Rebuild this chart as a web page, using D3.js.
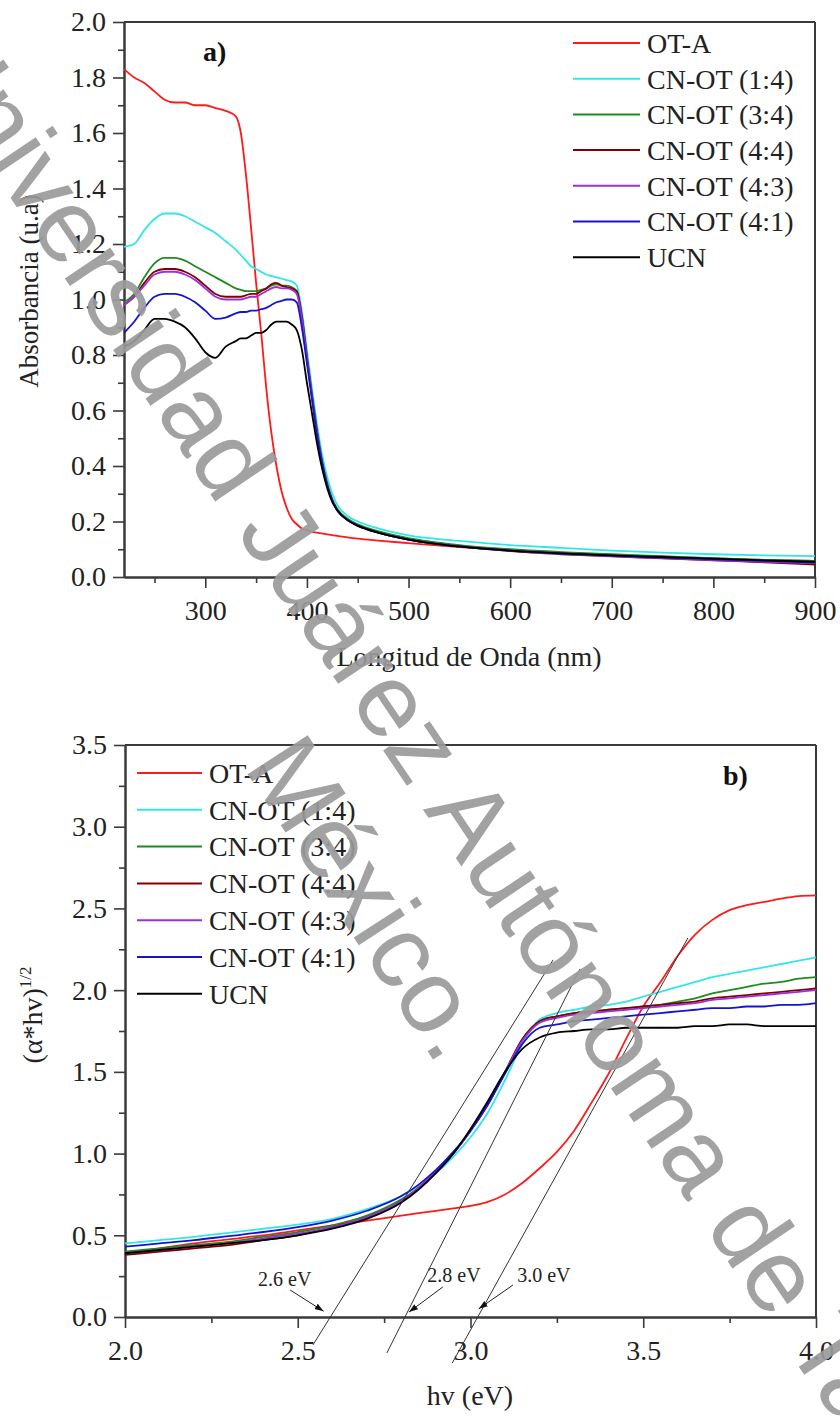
<!DOCTYPE html>
<html><head><meta charset="utf-8">
<script src="https://cdn.jsdelivr.net/npm/d3@7"></script>
<style>
body{margin:0;background:#fff} svg{display:block}
svg text{font-family:"Liberation Serif","Times New Roman",Times,serif}
svg text.wm{font-family:"Liberation Sans",Arial,Helvetica,sans-serif}
</style>
</head><body><script>
// ---------- DATA ----------
const seriesNames = ["OT-A","CN-OT (1:4)","CN-OT (3:4)","CN-OT (4:4)","CN-OT (4:3)","CN-OT (4:1)","UCN"];
const seriesColors = ["#ff1a1a","#33e6e6","#1f8a1f","#800000","#9b30d9","#1414d0","#000000"];

// panel a) absorbance vs wavelength (nm)
const wavelength = [220,230,240,250,260,270,280,290,300,310,320,330,335,340,345,350,355,360,365,370,375,380,385,390,395,400,405,410,415,420,425,430,440,450,470,500,550,600,650,700,750,800,850,900];
const absOTA  = [1.83,1.80,1.78,1.75,1.72,1.71,1.71,1.70,1.70,1.69,1.68,1.66,1.60,1.45,1.26,1.06,0.88,0.68,0.52,0.40,0.31,0.25,0.21,0.19,0.175,0.168,0.163,0.160,0.157,0.154,0.151,0.148,0.143,0.138,0.131,0.122,0.108,0.097,0.088,0.080,0.073,0.067,0.062,0.058];
const absCN14 = [1.19,1.20,1.25,1.29,1.31,1.31,1.30,1.28,1.26,1.24,1.21,1.18,1.16,1.14,1.12,1.11,1.10,1.09,1.085,1.08,1.075,1.07,1.065,1.05,0.96,0.82,0.68,0.55,0.44,0.36,0.30,0.26,0.22,0.20,0.175,0.15,0.13,0.115,0.105,0.095,0.088,0.082,0.078,0.075];
const absCN34 = [0.99,1.02,1.08,1.13,1.15,1.15,1.14,1.12,1.10,1.08,1.06,1.04,1.035,1.03,1.03,1.03,1.035,1.04,1.05,1.055,1.05,1.05,1.045,1.03,0.94,0.80,0.66,0.53,0.42,0.34,0.28,0.245,0.21,0.19,0.165,0.14,0.115,0.10,0.09,0.082,0.075,0.068,0.062,0.058];
const absCN44 = [0.98,1.01,1.06,1.10,1.11,1.11,1.10,1.08,1.05,1.02,1.01,1.01,1.01,1.015,1.02,1.02,1.03,1.04,1.055,1.06,1.05,1.045,1.04,1.03,0.94,0.79,0.65,0.52,0.41,0.33,0.275,0.24,0.205,0.185,0.16,0.135,0.11,0.093,0.082,0.074,0.067,0.06,0.053,0.045];
const absCN43 = [0.98,1.01,1.05,1.09,1.10,1.10,1.09,1.07,1.04,1.01,1.00,1.00,1.00,1.005,1.01,1.01,1.02,1.03,1.04,1.045,1.04,1.04,1.035,1.02,0.93,0.79,0.65,0.52,0.41,0.33,0.275,0.24,0.205,0.185,0.16,0.135,0.11,0.094,0.083,0.075,0.068,0.061,0.055,0.05];
const absCN41 = [0.88,0.92,0.97,1.01,1.02,1.02,1.01,0.99,0.96,0.93,0.935,0.95,0.955,0.955,0.96,0.96,0.965,0.97,0.98,0.99,0.995,1.0,1.0,0.99,0.90,0.77,0.64,0.51,0.41,0.33,0.275,0.24,0.205,0.185,0.16,0.135,0.11,0.095,0.085,0.077,0.07,0.064,0.058,0.052];
const absUCN  = [0.83,0.85,0.89,0.93,0.93,0.92,0.90,0.86,0.81,0.79,0.83,0.85,0.86,0.86,0.87,0.88,0.88,0.89,0.91,0.92,0.92,0.92,0.91,0.89,0.82,0.70,0.59,0.48,0.39,0.32,0.27,0.24,0.205,0.185,0.16,0.135,0.11,0.095,0.085,0.078,0.072,0.066,0.06,0.055];
const aXTicks = [300,400,500,600,700,800,900];
const aXMinor = [250,350,450,550,650,750,850];
const aYTicks = [0,0.2,0.4,0.6,0.8,1.0,1.2,1.4,1.6,1.8,2.0];
const aYMinor = [0.1,0.3,0.5,0.7,0.9,1.1,1.3,1.5,1.7,1.9];

// panel b) Tauc plot vs photon energy (eV)
const energy = [2.0,2.1,2.2,2.3,2.4,2.5,2.6,2.7,2.8,2.85,2.9,2.95,3.0,3.05,3.1,3.15,3.2,3.25,3.3,3.35,3.4,3.45,3.5,3.55,3.6,3.65,3.7,3.75,3.8,3.85,3.9,3.95,4.0];
const taucOTA  = [0.39,0.42,0.45,0.475,0.50,0.53,0.56,0.59,0.62,0.635,0.65,0.665,0.68,0.705,0.75,0.82,0.91,1.01,1.14,1.31,1.49,1.70,1.90,2.05,2.21,2.34,2.43,2.49,2.52,2.54,2.56,2.575,2.58];
const taucCN14 = [0.45,0.47,0.49,0.515,0.54,0.565,0.60,0.66,0.74,0.80,0.88,0.98,1.10,1.25,1.45,1.67,1.82,1.86,1.88,1.90,1.91,1.93,1.96,1.99,2.02,2.05,2.08,2.10,2.12,2.14,2.16,2.18,2.20];
const taucCN34 = [0.40,0.42,0.44,0.46,0.49,0.52,0.56,0.62,0.72,0.79,0.89,1.00,1.14,1.30,1.50,1.70,1.81,1.84,1.86,1.87,1.88,1.89,1.90,1.91,1.93,1.95,1.98,2.00,2.02,2.04,2.05,2.07,2.08];
const taucCN44 = [0.38,0.40,0.42,0.44,0.47,0.50,0.55,0.61,0.71,0.79,0.89,1.00,1.14,1.30,1.50,1.70,1.81,1.84,1.86,1.87,1.88,1.89,1.90,1.91,1.92,1.93,1.95,1.96,1.97,1.98,1.99,2.00,2.01];
const taucCN43 = [0.39,0.41,0.43,0.45,0.48,0.51,0.55,0.61,0.71,0.79,0.89,1.00,1.14,1.30,1.50,1.69,1.80,1.83,1.85,1.86,1.87,1.88,1.89,1.90,1.91,1.92,1.94,1.95,1.96,1.97,1.98,1.99,2.00];
const taucCN41 = [0.43,0.45,0.47,0.495,0.52,0.55,0.59,0.65,0.74,0.81,0.90,1.01,1.14,1.30,1.49,1.67,1.77,1.79,1.81,1.82,1.83,1.84,1.85,1.86,1.87,1.88,1.89,1.89,1.90,1.90,1.91,1.91,1.92];
const taucUCN  = [0.39,0.41,0.43,0.45,0.47,0.50,0.54,0.60,0.70,0.78,0.88,1.00,1.15,1.32,1.50,1.64,1.71,1.74,1.75,1.76,1.76,1.77,1.77,1.77,1.77,1.78,1.78,1.79,1.79,1.78,1.78,1.78,1.78];
const bXTicks = [2.0,2.5,3.0,3.5,4.0];
const bXMinor = [2.25,2.75,3.25,3.75];
const bYTicks = [0,0.5,1.0,1.5,2.0,2.5,3.0,3.5];
const bYMinor = [0.25,0.75,1.25,1.75,2.25,2.75,3.25];

// band-gap tangent lines: [x0,y0,x1,y1] in data units
const tangents = [[2.544,-0.171,3.239,2.185],[2.758,-0.220,3.317,2.130],[2.947,-0.282,3.629,2.319]];
const gapLabels = ["2.6 eV","2.8 eV","3.0 eV"];
const gapLabelPos = [[2.385,0.19],[2.875,0.215],[3.135,0.215]];
const gapArrows = [[2.478,0.165,2.575,0.035],[2.92,0.184,2.822,0.03],[3.123,0.196,3.024,0.05]];

// ---------- DRAW ----------
const W = 840, H = 1416;
const serif = '"Liberation Serif","Times New Roman",Times,serif';
const svg = d3.select("body").append("svg").attr("width", W).attr("height", H);
svg.append("rect").attr("width", W).attr("height", H).attr("fill", "#fff");
const defs = svg.append("defs");
defs.append("marker").attr("id","arr").attr("viewBox","0 0 10 10").attr("refX",10).attr("refY",5)
  .attr("markerWidth",9).attr("markerHeight",9).attr("markerUnits","userSpaceOnUse").attr("orient","auto")
  .append("path").attr("d","M0,1.5 L10,5 L0,8.5 z").attr("fill","#111");

function styleAxis(g){
  g.attr("font-family", null).style("font-family", serif);
  g.select(".domain").attr("stroke","#3a3a3a").attr("stroke-width",2);
  g.selectAll(".tick line").attr("stroke","#3a3a3a").attr("stroke-width",1.6);
  g.selectAll(".tick text").style("font-family",serif).attr("font-size",28).attr("fill","#222");
}

function panel(o){
  const x = d3.scaleLinear().domain(o.xDomain).range([o.left, o.right]);
  const y = d3.scaleLinear().domain(o.yDomain).range([o.bottom, o.top]);
  const g = svg.append("g");
  g.append("line").attr("x1",o.left).attr("x2",o.right).attr("y1",o.top).attr("y2",o.top).attr("stroke","#3a3a3a").attr("stroke-width",2);
  g.append("line").attr("x1",o.right).attr("x2",o.right).attr("y1",o.top).attr("y2",o.bottom).attr("stroke","#3a3a3a").attr("stroke-width",2);
  g.append("g").attr("transform",`translate(0,${o.bottom})`)
    .call(d3.axisBottom(x).tickValues(o.xMinor).tickSize(6).tickSizeOuter(0).tickFormat(""))
    .call(styleAxis);
  g.append("g").attr("transform",`translate(${o.left},0)`)
    .call(d3.axisLeft(y).tickValues(o.yMinor).tickSize(6).tickSizeOuter(0).tickFormat(""))
    .call(styleAxis);
  g.append("g").attr("transform",`translate(0,${o.bottom})`)
    .call(d3.axisBottom(x).tickValues(o.xTicks).tickSize(11).tickSizeOuter(0).tickPadding(12).tickFormat(o.xFmt))
    .call(styleAxis);
  g.append("g").attr("transform",`translate(${o.left},0)`)
    .call(d3.axisLeft(y).tickValues(o.yTicks).tickSize(11).tickSizeOuter(0).tickPadding(7).tickFormat(d3.format(".1f")))
    .call(styleAxis);
  const line = d3.line().x((d,i)=>x(o.xs[i])).y(d=>y(d)).curve(d3.curveMonotoneX);
  o.series.forEach((s,k)=>{
    g.append("path").attr("d", line(s)).attr("fill","none")
      .attr("stroke", seriesColors[k]).attr("stroke-width",1.8).attr("stroke-linejoin","round");
  });
  seriesNames.forEach((n,k)=>{
    const yy = o.legY + k*o.legDy;
    g.append("line").attr("x1",o.legX).attr("x2",o.legX+o.legLen).attr("y1",yy).attr("y2",yy)
      .attr("stroke",seriesColors[k]).attr("stroke-width",2);
    g.append("text").attr("x",o.legX+o.legLen+7).attr("y",yy).attr("dy","0.35em")
      .style("font-family",serif).attr("font-size",28).attr("fill","#222").text(n);
  });
  return {x,y,g};
}

// Panel a
const pa = panel({
  left:124, right:815, top:22, bottom:577,
  xDomain:[220,900], yDomain:[0,2.0],
  xTicks:aXTicks, xMinor:aXMinor, yTicks:aYTicks, yMinor:aYMinor, xFmt:d3.format("d"),
  xs:wavelength, series:[absOTA,absCN14,absCN34,absCN44,absCN43,absCN41,absUCN],
  legX:573, legLen:67, legY:43, legDy:35.7
});
svg.append("text").attr("x",203).attr("y",61).style("font-family",serif).attr("font-weight","bold")
  .attr("font-size",28).attr("fill","#111").text("a)");
svg.append("text").attr("x",469).attr("y",666).attr("text-anchor","middle").style("font-family",serif)
  .attr("font-size",28).attr("fill","#222").text("Longitud de Onda (nm)");
svg.append("text").attr("transform","translate(38,291) rotate(-90)").attr("text-anchor","middle")
  .style("font-family",serif).attr("font-size",27).attr("fill","#222").text("Absorbancia (u.a)");

// Panel b
const pb = panel({
  left:125, right:816, top:745, bottom:1317,
  xDomain:[2.0,4.0], yDomain:[0,3.5],
  xTicks:bXTicks, xMinor:bXMinor, yTicks:bYTicks, yMinor:bYMinor, xFmt:d3.format(".1f"),
  xs:energy, series:[taucOTA,taucCN14,taucCN34,taucCN44,taucCN43,taucCN41,taucUCN],
  legX:137, legLen:65, legY:773, legDy:36.8
});
tangents.forEach(t=>{
  svg.append("line").attr("x1",pb.x(t[0])).attr("y1",pb.y(t[1])).attr("x2",pb.x(t[2])).attr("y2",pb.y(t[3]))
    .attr("stroke","#333").attr("stroke-width",1);
});
gapLabels.forEach((l,i)=>{
  svg.append("text").attr("x",pb.x(gapLabelPos[i][0])).attr("y",pb.y(gapLabelPos[i][1]))
    .style("font-family",serif).attr("font-size",20).attr("fill","#222").text(l);
});
gapArrows.forEach(a=>{
  svg.append("line").attr("x1",pb.x(a[0])).attr("y1",pb.y(a[1])).attr("x2",pb.x(a[2])).attr("y2",pb.y(a[3]))
    .attr("stroke","#222").attr("stroke-width",1).attr("marker-end","url(#arr)");
});
svg.append("text").attr("x",723).attr("y",785).style("font-family",serif).attr("font-weight","bold")
  .attr("font-size",28).attr("fill","#111").text("b)");
svg.append("text").attr("x",470).attr("y",1405).attr("text-anchor","middle").style("font-family",serif)
  .attr("font-size",28).attr("fill","#222").text("hv (eV)");
const yt = svg.append("text").attr("transform","translate(42,1015) rotate(-90)").attr("text-anchor","middle")
  .style("font-family",serif).attr("font-size",28).attr("fill","#222");
yt.append("tspan").text("(α*hv)");
yt.append("tspan").attr("dy",-11).attr("font-size",17).text("1/2");

// watermark
const wm = svg.append("g").attr("font-size",104).attr("fill","#9a9a9a").attr("fill-opacity",0.92);
wm.append("text").attr("class","wm").attr("transform","translate(-88,52) rotate(56)").text("Universidad Juárez Autónoma de Tabasco");
wm.append("text").attr("class","wm").attr("transform","translate(243,767) rotate(57)").text("México.");
</script></body></html>
